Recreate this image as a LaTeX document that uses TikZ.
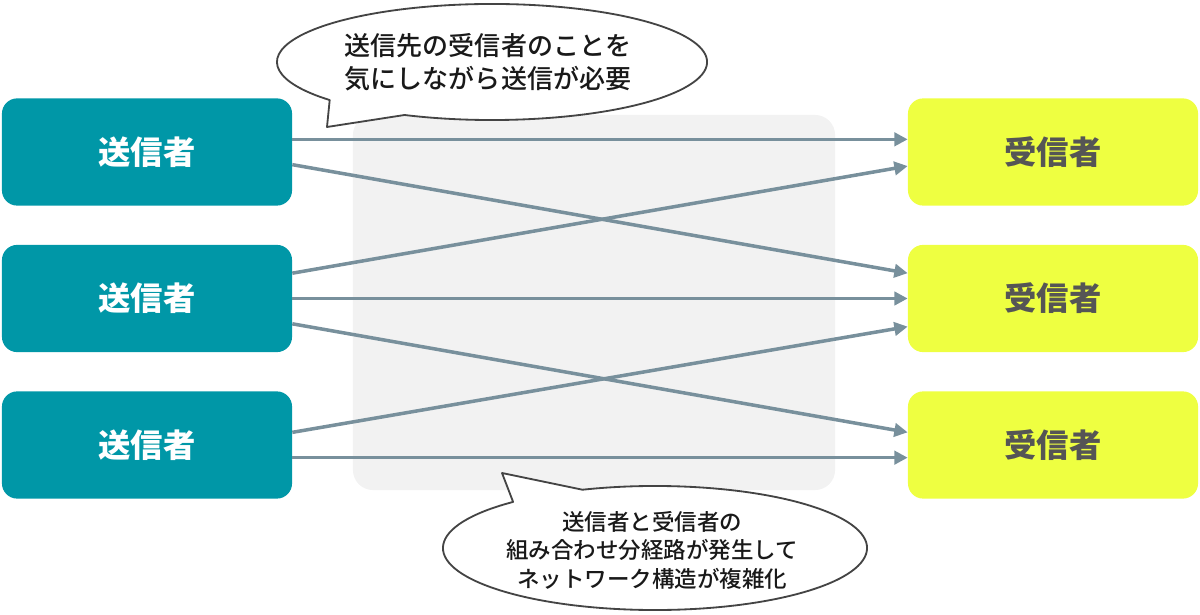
\documentclass[tikz,border=0pt]{standalone}
\usepackage{fontspec}
\setmainfont{Noto Sans CJK JP}
\newfontfamily\notefont{Noto Sans CJK JP Medium}
\usetikzlibrary{arrows.meta,positioning,calc}
\definecolor{sendteal}{HTML}{0097A7}
\definecolor{recvlime}{HTML}{EEFF41}
\definecolor{recvtext}{HTML}{555555}
\definecolor{linkgray}{HTML}{78909C}
\definecolor{netgray}{HTML}{F2F2F2}
\definecolor{bubbleline}{HTML}{444444}

\begin{document}
\begin{tikzpicture}[x=0.025cm, y=0.025cm,
    sender/.style={fill=sendteal, rounded corners=0.38cm, minimum width=7.25cm, minimum height=2.68cm, inner sep=0pt, font=\fontsize{23}{28}\selectfont\bfseries, text=white},
    receiver/.style={sender, fill=recvlime, text=recvtext},
    netarea/.style={fill=netgray, rounded corners=0.5cm, minimum width=12.05cm, minimum height=9.375cm, inner sep=0pt},
    link/.style={-{Triangle[length=9.5pt,width=9.5pt]}, draw=linkgray, line width=2.5pt},
    bubble/.style={draw=bubbleline, fill=white, line width=1.3pt, line join=round},
    note/.style={align=center, text=black!90}
]
\useasboundingbox (0,0) rectangle (1200,-615);

\node[netarea] (net) at (594,-302.5) {};

\node[sender] (s1) at (147,-152) {送信者};
\node[sender] (s2) at (147,-298.5) {送信者};
\node[sender] (s3) at (147,-445) {送信者};
\node[receiver] (r1) at (1053,-152) {受信者};
\node[receiver] (r2) at (1053,-298.5) {受信者};
\node[receiver] (r3) at (1053,-445) {受信者};

\draw[link] ([yshift=9pt]s1.east) -- ([yshift=9pt]r1.west);
\draw[link] ([yshift=-9pt]s1.east) -- ([yshift=18pt]r2.west);
\draw[link] ([yshift=18pt]s2.east) -- ([yshift=-10pt]r1.west);
\draw[link] (s2.east) -- (r2.west);
\draw[link] ([yshift=-18pt]s2.east) -- ([yshift=9pt]r3.west);
\draw[link] ([yshift=9pt]s3.east) -- ([yshift=-20pt]r2.west);
\draw[link] ([yshift=-9pt]s3.east) -- ([yshift=-9pt]r3.west);

\coordinate (c1) at (492,-62);
\coordinate (t1) at (327,-127);
\draw[bubble] ([shift={(221:5.375cm and 1.45cm)}]c1) -- (t1)
  -- ([shift={(246:5.375cm and 1.45cm)}]c1)
  arc[start angle=246, end angle=581, x radius=5.375cm, y radius=1.45cm] -- cycle;
\node[note, font=\notefont\fontsize{18.5}{23.5}\selectfont] (n1) at (488,-62) {送信先の受信者のことを\\気にしながら送信が必要};

\coordinate (c2) at (655,-548);
\coordinate (t2) at (502,-473);
\draw[bubble] ([shift={(110:5.3cm and 1.55cm)}]c2) -- (t2)
  -- ([shift={(132:5.3cm and 1.55cm)}]c2)
  arc[start angle=132, end angle=470, x radius=5.3cm, y radius=1.55cm] -- cycle;
\node[note, font=\notefont\fontsize{16}{20.3}\selectfont] (n2) at (652,-550) {送信者と受信者の\\組み合わせ分経路が発生して\\ネットワーク構造が複雑化};
\end{tikzpicture}
\end{document}
